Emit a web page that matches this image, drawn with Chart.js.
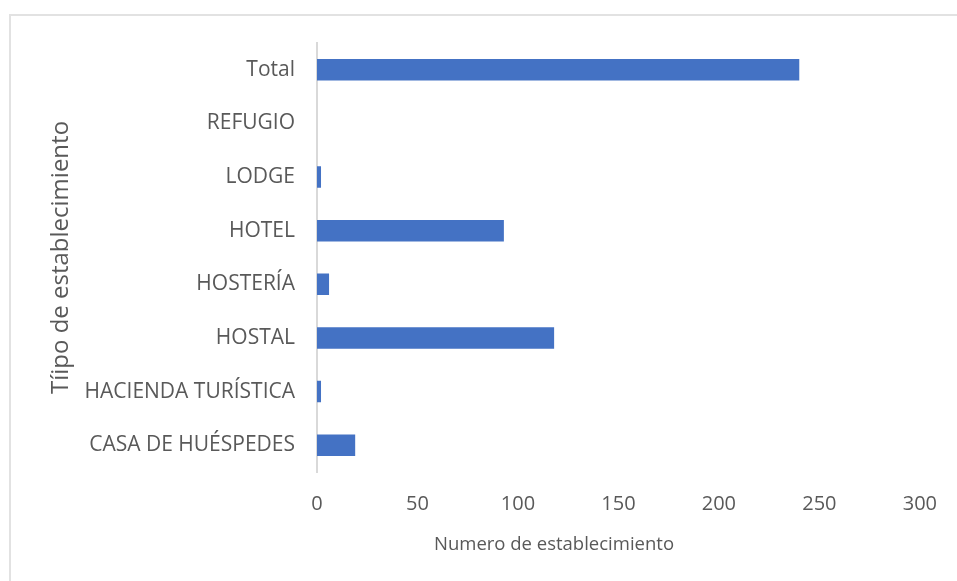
<!DOCTYPE html>
<html>
<head>
<meta charset="utf-8">
<script src="https://cdn.jsdelivr.net/npm/chart.js@4"></script>
<style>
    html, body { margin: 0; padding: 0; background: #ffffff; }
    #wrap { position: relative; width: 957px; height: 581px; overflow: hidden; }
    #frame {
        position: absolute; left: 9px; top: 14px; width: 1200px; height: 900px;
        border: 2px solid #e2e2e2; box-sizing: border-box;
    }
    #chart { position: absolute; left: 0; top: 0; }
</style>
</head>
<body>
<div id="wrap">
    <div id="frame"></div>
    <canvas id="chart" width="957" height="581"></canvas>
</div>
<script>
// Categories, top to bottom
const categories = [
    'Total',
    'REFUGIO',
    'LODGE',
    'HOTEL',
    'HOSTERÍA',
    'HOSTAL',
    'HACIENDA TURÍSTICA',
    'CASA DE HUÉSPEDES'
];

// Number of establishments per type
const establishments = [240, 0, 2, 93, 6, 118, 2, 19];

// X axis range
const xTicks = [0, 50, 100, 150, 200, 250, 300];

const xTitle = 'Numero de establecimiento';
const yTitle = 'Tíipo de establecimiento';

const TEXT_COLOR = '#595959';
const FONT = 'Open Sans';

// Excel centres the x title off the plot area, so draw it ourselves
const xTitlePlugin = {
    id: 'xTitle',
    afterDraw(chart) {
        const ctx = chart.ctx;
        ctx.save();
        ctx.fillStyle = TEXT_COLOR;
        ctx.font = '18.5px "' + FONT + '"';
        ctx.textAlign = 'center';
        ctx.textBaseline = 'middle';
        ctx.fillText(xTitle, 554, 545);
        ctx.restore();
    }
};

new Chart(document.getElementById('chart').getContext('2d'), {
    type: 'bar',
    data: {
        labels: categories,
        datasets: [{
            label: xTitle,
            data: establishments,
            backgroundColor: '#4472C4',
            borderWidth: 0,
            categoryPercentage: 1,
            barPercentage: 0.4
        }]
    },
    options: {
        indexAxis: 'y',
        responsive: false,
        animation: false,
        layout: {
            padding: { left: 10, right: 35, top: 43, bottom: 0 }
        },
        plugins: {
            legend: { display: false },
            tooltip: { enabled: false }
        },
        scales: {
            x: {
                min: xTicks[0],
                max: xTicks[xTicks.length - 1],
                afterBuildTicks: scale => {
                    scale.ticks = xTicks.map(v => ({ value: v }));
                },
                afterFit: scale => { scale.height = 109; },
                grid: { display: false, drawTicks: false },
                border: { display: false },
                ticks: {
                    color: TEXT_COLOR,
                    padding: 20,
                    font: { family: FONT, size: 20 }
                }
            },
            y: {
                afterFit: scale => { scale.width = 307; },
                grid: { display: false, drawTicks: false },
                border: { display: true, color: '#d9d9d9', width: 2 },
                ticks: {
                    color: TEXT_COLOR,
                    padding: 22,
                    font: { family: FONT, size: 21 }
                },
                title: {
                    display: true,
                    text: yTitle,
                    color: TEXT_COLOR,
                    padding: { top: 37, bottom: 0 },
                    font: { family: FONT, size: 24 }
                }
            }
        }
    },
    plugins: [xTitlePlugin]
});
</script>
</body>
</html>
